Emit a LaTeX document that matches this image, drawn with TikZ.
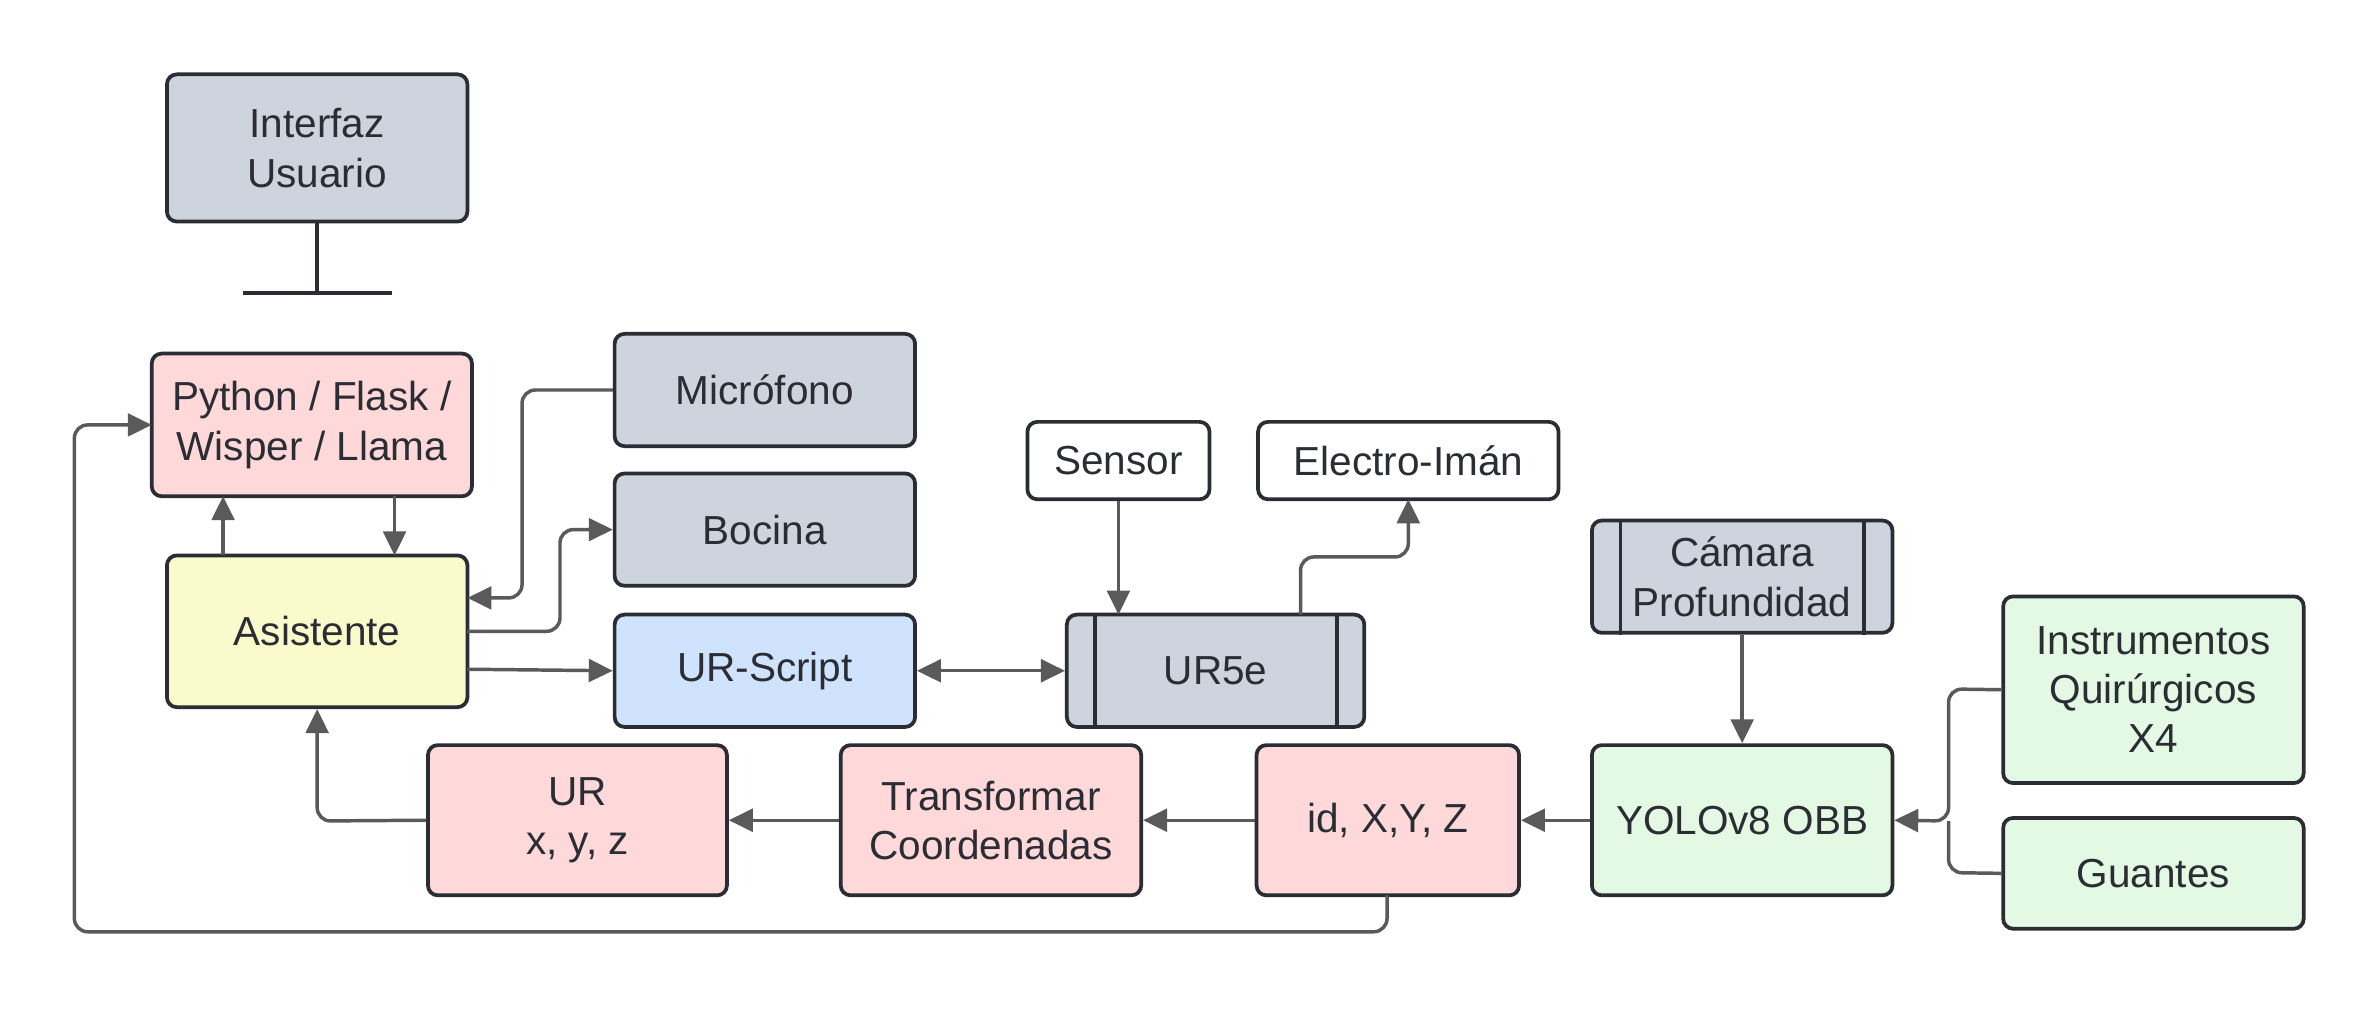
\documentclass[tikz,border=0pt]{standalone}
\usepackage{fontspec}
\setmainfont{Liberation Sans}
\usetikzlibrary{arrows.meta}
\definecolor{bgray}{HTML}{CED4DD}
\definecolor{bpink}{HTML}{FFD8D9}
\definecolor{byel}{HTML}{FAFACC}
\definecolor{bblue}{HTML}{D0E3FE}
\definecolor{bgreen}{HTML}{E3F9E3}
\definecolor{edge}{HTML}{2A2D33}
\definecolor{conn}{HTML}{5A5A5A}
\newcommand\mybox[7]{\node[box,fill=#2,minimum width={(#5-#3)*0.02cm},minimum height={(#6-#4)*0.02cm}] (#1) at ({(#3+#5)/2},{(#4+#6)/2}) {#7};}
\begin{document}
\begin{tikzpicture}[x=0.02cm,y=-0.02cm,
 box/.style={draw=edge,line width=1.4pt,rounded corners=3.7pt,align=center,inner sep=0pt,font=\fontsize{15.2}{18.5}\selectfont,text=edge},
 tip/.style={Triangle[length=9pt,width=8.5pt]},
 arr/.style={draw=conn,line width=1.3pt,rounded corners=5pt,-{Triangle[length=9pt,width=8.5pt]}},
 ln/.style={draw=conn,line width=1.3pt,rounded corners=5pt}]
\useasboundingbox[fill=white] (0,0) rectangle (1567,665);
\mybox{iu}{bgray}{110}{49}{308}{146}{Interfaz\\Usuario}
\mybox{py}{bpink}{100}{233}{311}{327}{Python / Flask /\\Wisper / Llama}
\mybox{mic}{bgray}{405}{220}{603}{294}{Micrófono}
\mybox{boc}{bgray}{405}{312}{603}{386}{Bocina}
\mybox{as}{byel}{110}{366}{308}{466}{Asistente}
\mybox{urs}{bblue}{405}{405}{603}{479}{UR-Script}
\mybox{sen}{white}{677}{278}{797}{329}{Sensor}
\mybox{ele}{white}{829}{278}{1027}{329}{Electro-Imán}
\mybox{ur5}{bgray}{703}{405}{899}{479}{UR5e}
\mybox{cam}{bgray}{1049}{343}{1247}{417}{Cámara\\Profundidad}
\mybox{ins}{bgreen}{1320}{393}{1518}{516}{Instrumentos\\Quirúrgicos\\X4}
\mybox{gua}{bgreen}{1320}{539}{1518}{612}{Guantes}
\mybox{yolo}{bgreen}{1049}{491}{1247}{590}{YOLOv8 OBB}
\mybox{id}{bpink}{828}{491}{1001}{590}{id, X,Y, Z}
\mybox{tr}{bpink}{554}{491}{752}{590}{Transformar\\Coordenadas}
\mybox{urx}{bpink}{282}{491}{479}{590}{UR\\x, y, z}
\draw[edge,line width=1.4pt] ([xshift=0.4cm]ur5.north west) -- ([xshift=0.4cm]ur5.south west)
 ([xshift=-0.38cm]ur5.north east) -- ([xshift=-0.38cm]ur5.south east)
 ([xshift=0.4cm]cam.north west) -- ([xshift=0.4cm]cam.south west)
 ([xshift=-0.4cm]cam.north east) -- ([xshift=-0.4cm]cam.south east);
\coordinate (st) at (209,193);
\draw[edge,line width=1.4pt] (iu.south) -- (st) (160,193) -- (258,193);
\draw[arr] (147,366) -- (147,327);
\draw[arr] (260,327) -- (260,366);
\draw[arr] (mic.west) -- (344,257) -- (344,394) -- (308,394);
\draw[arr] (308,416) -- (369,416) -- (369,349) -- (boc.west);
\draw[arr] (308,441) -- (urs.west);
\draw[draw=conn,line width=1.3pt,{Triangle[length=9pt,width=8.5pt]}-{Triangle[length=9pt,width=8.5pt]}] (urs.east) -- (ur5.west);
\draw[arr] (sen.south) -- (737,405);
\draw[arr] (857,405) -- (857,367) -- (928,367) -- (928,329);
\draw[arr] (cam.south) -- (yolo.north);
\draw[arr] (ins.west) -- (1284,454) -- (1284,541) -- (yolo.east);
\draw[ln] (gua.west) -- (1284,575) -- (1284,541);
\draw[arr] (yolo.west) -- (id.east);
\draw[arr] (id.west) -- (tr.east);
\draw[arr] (tr.west) -- (urx.east);
\draw[arr] (urx.west) -- (209,541) -- (as.south);
\draw[arr] (914,590) -- (914,614) -- (49,614) -- (49,280) -- (100,280);
\end{tikzpicture}
\end{document}
